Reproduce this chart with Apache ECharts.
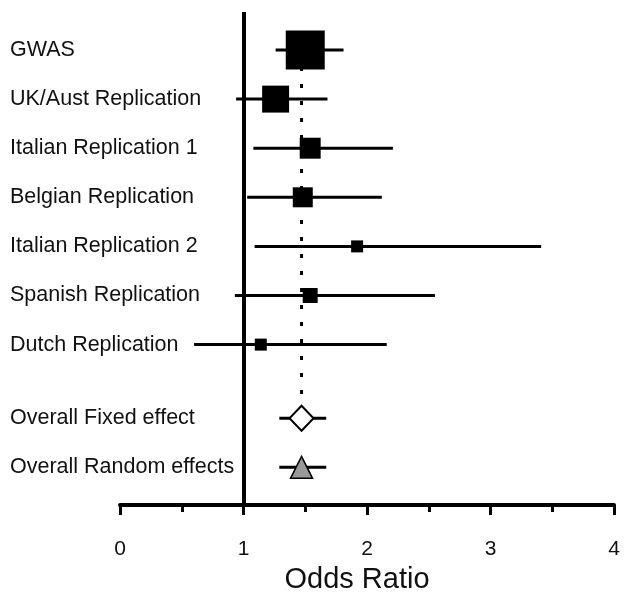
<!DOCTYPE html>
<html><head><meta charset="utf-8">
<script src="https://cdn.jsdelivr.net/npm/echarts@6/dist/echarts.min.js"></script>
<style>html,body{margin:0;padding:0;background:#fff}#c{width:625px;height:592px}</style>
</head><body><div id="c"></div>
<script>
const studies = ['GWAS','UK/Aust Replication','Italian Replication 1','Belgian Replication','Italian Replication 2','Spanish Replication','Dutch Replication'];
const studyOR = [1.50, 1.26, 1.54, 1.48, 1.92, 1.54, 1.14];
const studyLo = [1.26, 0.94, 1.08, 1.03, 1.09, 0.93, 0.60];
const studyHi = [1.81, 1.68, 2.21, 2.12, 3.41, 2.55, 2.16];
const studyWeight = [42.2, 20.2, 12.2, 11.1, 4.0, 6.2, 4.0];
const overallNames = ['Overall Fixed effect', 'Overall Random effects'];
const overallOR = [1.47, 1.47];
const overallLo = [1.29, 1.29];
const overallHi = [1.67, 1.67];
const xTicks = [0, 1, 2, 3, 4];
const xAxisName = 'Odds Ratio';
const nullValue = 1;

const FONT = "'Liberation Sans', Arial, sans-serif";
const studyRows = studies.map((_, i) => i);
const overallRows = overallNames.map((_, j) => studies.length + 0.5 + j);
const allRows = studyRows.concat(overallRows);
const allNames = studies.concat(overallNames);
const nameByRow = {};
allRows.forEach((r, i) => { nameByRow[r] = allNames[i]; });

const ciData = studies.map((_, i) => [studyLo[i], studyHi[i], studyRows[i]])
  .concat(overallNames.map((_, j) => [overallLo[j], overallHi[j], overallRows[j]]));

const chart = echarts.init(document.getElementById('c'), null, {renderer: 'canvas'});
chart.setOption({
  animation: false,
  backgroundColor: '#fff',
  textStyle: {fontFamily: FONT},
  grid: {left: 120, right: 11, top: 12, bottom: 87, containLabel: false, outerBoundsMode: 'none'},
  xAxis: {
    type: 'value', min: xTicks[0], max: xTicks[xTicks.length - 1], interval: 1,
    name: xAxisName, nameLocation: 'middle', nameGap: 60,
    nameTextStyle: {fontSize: 29, color: '#111', fontFamily: FONT, padding: [0, 20, 0, 0]},
    axisLine: {show: true, onZero: false, lineStyle: {color: '#000', width: 4}},
    axisTick: {show: true, length: 10, lineStyle: {color: '#000', width: 3}},
    minorTick: {show: true, splitNumber: 2, length: 7, lineStyle: {color: '#000', width: 3}},
    splitLine: {show: false},
    axisLabel: {fontSize: 21, color: '#111', margin: 34, fontFamily: FONT}
  },
  yAxis: {
    type: 'value', inverse: true, min: -0.774, max: 9.267,
    axisLine: {show: false}, axisTick: {show: false}, splitLine: {show: false},
    axisLabel: {
      show: true, customValues: allRows, align: 'left', margin: 110,
      fontSize: 21.5, color: '#111', fontFamily: FONT,
      formatter: v => nameByRow[v] || ''
    }
  },
  series: [
    {
      type: 'line', z: 0, symbol: 'none', silent: true,
      data: [[overallOR[0], studyRows[0]], [overallOR[0], overallRows[0]]],
      lineStyle: {color: '#000', width: 3, type: [4, 13]}
    },
    {
      type: 'custom', z: 2, silent: true,
      data: ciData,
      renderItem: (params, api) => {
        const p1 = api.coord([api.value(0), api.value(2)]);
        const p2 = api.coord([api.value(1), api.value(2)]);
        return {type: 'line', shape: {x1: p1[0], y1: p1[1], x2: p2[0], y2: p2[1]},
          style: {stroke: '#000', lineWidth: 3}};
      },
      markLine: {
        silent: true, symbol: 'none', label: {show: false},
        lineStyle: {color: '#000', width: 4, type: 'solid'},
        data: [{xAxis: nullValue}]
      }
    },
    {
      type: 'scatter', z: 3, symbol: 'rect', silent: true,
      data: studies.map((_, i) => [studyOR[i], studyRows[i], studyWeight[i]]),
      symbolSize: v => 6 * Math.sqrt(v[2]),
      itemStyle: {color: '#000', opacity: 1}
    },
    {
      type: 'scatter', z: 3, symbol: 'diamond', silent: true, symbolSize: [24, 25],
      data: [[overallOR[0], overallRows[0]]],
      itemStyle: {color: '#fff', borderColor: '#000', borderWidth: 2, opacity: 1}
    },
    {
      type: 'scatter', z: 3, symbol: 'triangle', silent: true, symbolSize: [22, 22],
      data: [[overallOR[1], overallRows[1]]],
      itemStyle: {color: '#999', borderColor: '#000', borderWidth: 1.5, opacity: 1}
    }
  ]
});
</script></body></html>
